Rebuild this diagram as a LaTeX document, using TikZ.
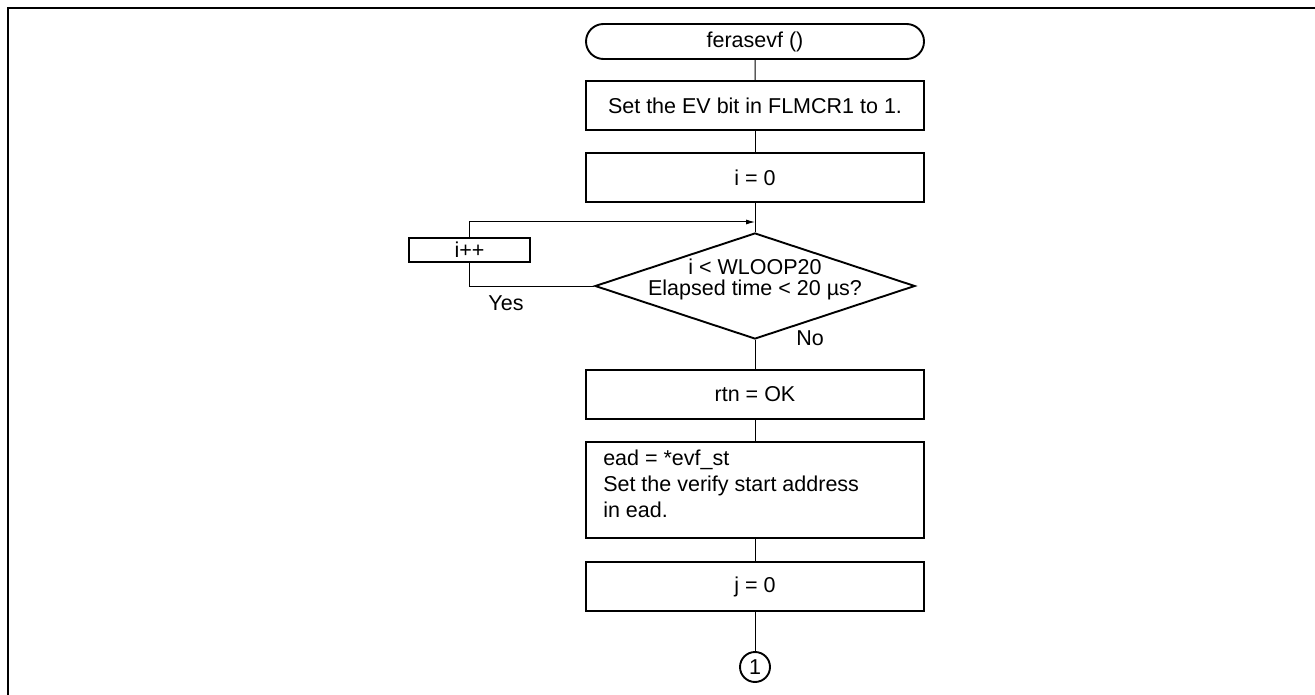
\documentclass[tikz,border=0pt]{standalone}
\usepackage{fontspec}
\setmainfont{Liberation Sans}
\usetikzlibrary{shapes.geometric,shapes.misc,arrows.meta}
\begin{document}
\begin{tikzpicture}[x=1pt,y=-1pt,
  every node/.style={font=\fontsize{21.5}{24}\selectfont},
  proc/.style={draw,line width=1.9pt,minimum width=338pt,minimum height=49pt,inner sep=0pt},
  term/.style={draw,line width=1.9pt,rounded rectangle,minimum width=338pt,minimum height=35pt,inner sep=0pt},
  dec/.style={draw,line width=1.9pt,diamond,minimum width=320pt,minimum height=106pt,inner sep=0pt},
  conn/.style={line width=1pt},
  lbl/.style={inner sep=0pt}]
\useasboundingbox (0,0) rectangle (1315,695);
\draw[line width=2.5pt] (8,695) -- (8,8) -- (1315,8);

\node[term] (start) at (755,41.5) {ferasevf ()};
\node[proc] (ev) at (755,105.5) {Set the EV bit in FLMCR1 to 1.};
\node[proc] (i0) at (755,177.5) {i = 0};
\node[dec] (cond) at (755,286) {};
\node[lbl,align=center,font=\fontsize{21.5}{21}\selectfont] (condt) at (755,279.5) {i < WLOOP20\\Elapsed time < 20 µs?};
\node[proc,minimum width=121pt,minimum height=24pt] (inc) at (469.5,250) {i++};
\node[proc] (rtn) at (755,394.5) {rtn = OK};
\node[proc,minimum height=96pt] (ead) at (755,490) {};
\node[lbl,anchor=north west,align=left,font=\fontsize{21.5}{26}\selectfont] (eadt) at ([xshift=18pt,yshift=-9pt]ead.north west) {ead = *evf\_st\\Set the verify start address\\in ead.};
\node[proc] (j0) at (755,586.5) {j = 0};
\node[draw,circle,line width=1.9pt,minimum size=30pt,inner sep=0pt] (c1) at (755,667) {1};

\node[lbl] (yes) at (506,303) {Yes};
\node[lbl] (no) at (810,338) {No};

\coordinate (loopin) at (755,222);

\draw[conn] (start) -- (ev);
\draw[conn] (ev) -- (i0);
\draw[conn] (i0) -- (cond.north);
\draw[conn] (cond.west) -| (inc.south);
\draw[conn,-{Latex[length=9pt,width=5pt]}] (inc.north) |- (loopin);
\draw[conn] (cond.south) -- (rtn);
\draw[conn] (rtn) -- (ead);
\draw[conn] (ead) -- (j0);
\draw[conn] (j0) -- (c1);
\end{tikzpicture}
\end{document}
